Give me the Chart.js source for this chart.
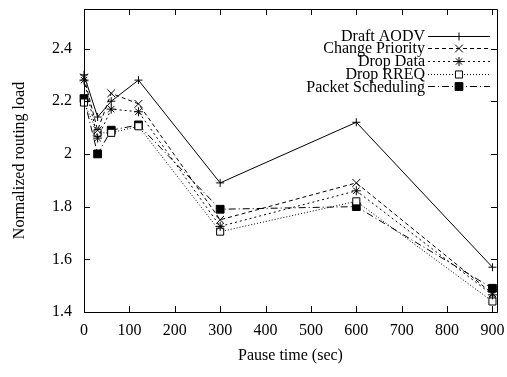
<!DOCTYPE html>
<html>
<head>
<meta charset="utf-8">
<script src="https://cdn.jsdelivr.net/npm/chart.js@4/dist/chart.umd.min.js"></script>
<style>
  html, body { margin: 0; padding: 0; background: #fff; }
  #wrap { width: 507px; height: 377px; }
</style>
</head>
<body>
<div id="wrap"><canvas id="c" width="507" height="377"></canvas></div>
<script>
// ---- data ----
const pauseTimes      = [0, 30, 60, 120, 300, 600, 900];
const draftAODV       = [2.30, 2.14, 2.20, 2.28, 1.89, 2.12, 1.57];
const changePriority  = [2.29, 2.09, 2.23, 2.19, 1.75, 1.89, 1.47];
const dropData        = [2.28, 2.06, 2.17, 2.16, 1.725, 1.86, 1.465];
const dropRREQ        = [2.195, 2.08, 2.08, 2.105, 1.705, 1.82, 1.44];
const packetSched     = [2.21, 2.00, 2.09, 2.11, 1.79, 1.80, 1.49];
const seriesNames     = ['Draft AODV', 'Change Priority', 'Drop Data', 'Drop RREQ', 'Packet Scheduling'];
const xTickValues     = [0, 100, 200, 300, 400, 500, 600, 700, 800, 900];
const yTickValues     = [1.4, 1.6, 1.8, 2.0, 2.2, 2.4];
const xTitle = 'Pause time (sec)';
const yTitle = 'Normalized routing load';

const FONT = "'Liberation Serif', 'DejaVu Serif', serif";

function pts(arr) { return pauseTimes.map((x, i) => ({ x: x, y: arr[i] })); }

const styles = [
  { dash: [],            pointStyle: 'cross',    radius: 4,   fill: '#000' },
  { dash: [4, 3],        pointStyle: 'crossRot', radius: 5.5, fill: '#000' },
  { dash: [2, 3],        pointStyle: 'star',     radius: 4.5, fill: '#000' },
  { dash: [1, 2],        pointStyle: 'rect',     radius: 5,   fill: '#fff' },
  { dash: [7, 3, 1, 3],  pointStyle: 'rect',     radius: 5.5, fill: '#000' }
];
const allSeries = [draftAODV, changePriority, dropData, dropRREQ, packetSched];

const datasets = allSeries.map((s, i) => ({
  label: seriesNames[i],
  data: pts(s),
  borderColor: '#000',
  backgroundColor: styles[i].fill,
  borderWidth: 1,
  borderDash: styles[i].dash,
  pointStyle: styles[i].pointStyle,
  pointRadius: styles[i].radius,
  pointBorderWidth: 1,
  pointBorderColor: '#000',
  pointBackgroundColor: styles[i].fill,
  pointHoverRadius: styles[i].radius,
  tension: 0,
  fill: false,
  clip: false
}));

// frame + inward ticks (gnuplot style), mirrored on top/right
const framePlugin = {
  id: 'frame',
  afterDraw(chart) {
    const ctx = chart.ctx, a = chart.chartArea;
    const xs = chart.scales.x, ys = chart.scales.y;
    ctx.save();
    ctx.strokeStyle = '#000';
    ctx.lineWidth = 1;
    ctx.setLineDash([]);
    ctx.beginPath();
    ctx.rect(Math.round(a.left) + 0.5, Math.round(a.top) + 0.5,
             Math.round(a.right - a.left), Math.round(a.bottom - a.top));
    ctx.stroke();
    const L = 6;
    ctx.beginPath();
    xs.ticks.forEach(t => {
      const px = Math.round(xs.getPixelForValue(t.value)) + 0.5;
      ctx.moveTo(px, a.bottom); ctx.lineTo(px, a.bottom - L);
      ctx.moveTo(px, a.top);    ctx.lineTo(px, a.top + L);
    });
    ys.ticks.forEach(t => {
      const py = Math.round(ys.getPixelForValue(t.value)) + 0.5;
      ctx.moveTo(a.left, py);  ctx.lineTo(a.left + L, py);
      ctx.moveTo(a.right, py); ctx.lineTo(a.right - L, py);
    });
    ctx.stroke();
    ctx.restore();
  }
};

// gnuplot-style key: text right-aligned, sample line to its right
const keyPlugin = {
  id: 'key',
  afterDraw(chart) {
    const ctx = chart.ctx;
    const textRight = 425, lineL = 428, lineR = 490, y0 = 35.5, dy = 12.7;
    ctx.save();
    ctx.font = '16px ' + FONT;
    ctx.textAlign = 'right';
    ctx.textBaseline = 'middle';
    chart.data.datasets.forEach((ds, i) => {
      const y = y0 + i * dy;
      ctx.fillStyle = '#000';
      ctx.fillText(ds.label, textRight, y + 1);
      ctx.strokeStyle = '#000';
      ctx.lineWidth = 1;
      ctx.setLineDash(ds.borderDash || []);
      ctx.beginPath();
      ctx.moveTo(lineL, Math.round(y) + 0.5);
      ctx.lineTo(lineR, Math.round(y) + 0.5);
      ctx.stroke();
      ctx.setLineDash([]);
      ctx.fillStyle = ds.pointBackgroundColor;
      ctx.strokeStyle = '#000';
      ctx.lineWidth = 1;
      const mx = (lineL + lineR) / 2;
      if (Chart.helpers && Chart.helpers.drawPoint) {
        Chart.helpers.drawPoint(ctx, { pointStyle: ds.pointStyle, radius: ds.pointRadius, rotation: 0, borderWidth: 1 }, mx, Math.round(y) + 0.5);
      }
    });
    ctx.restore();
  }
};

new Chart(document.getElementById('c'), {
  type: 'line',
  data: { datasets: datasets },
  options: {
    responsive: false,
    animation: false,
    layout: { padding: { left: 0, right: 10, top: 9, bottom: 0 } },
    plugins: {
      legend: { display: false },
      tooltip: { enabled: false }
    },
    scales: {
      x: {
        type: 'linear',
        min: 0, max: 910,
        grid: { display: false, drawTicks: false },
        border: { display: false },
        afterBuildTicks(s) { s.ticks = xTickValues.map(v => ({ value: v })); },
        ticks: {
          autoSkip: false,
          padding: 9,
          color: '#000',
          font: { family: FONT, size: 16 },
          maxRotation: 0,
          callback: v => String(v)
        },
        title: {
          display: true, text: xTitle, color: '#000',
          font: { family: FONT, size: 16 },
          padding: { top: 0, bottom: 12 }
        },
        afterFit(s) { s.height = 65; s.paddingLeft = 0; s.paddingRight = 0; }
      },
      y: {
        type: 'linear',
        min: 1.4, max: 2.55,
        grid: { display: false, drawTicks: false },
        border: { display: false },
        afterBuildTicks(s) { s.ticks = yTickValues.map(v => ({ value: v })); },
        ticks: {
          autoSkip: false,
          padding: 12,
          color: '#000',
          font: { family: FONT, size: 16 },
          callback: v => String(Math.round(v * 10) / 10)
        },
        title: {
          display: true, text: yTitle, color: '#000',
          font: { family: FONT, size: 16 },
          padding: { top: 10, bottom: 0 }
        },
        afterFit(s) { s.width = 84; s.paddingTop = 0; s.paddingBottom = 0; }
      }
    }
  },
  plugins: [framePlugin, keyPlugin]
});
</script>
</body>
</html>
